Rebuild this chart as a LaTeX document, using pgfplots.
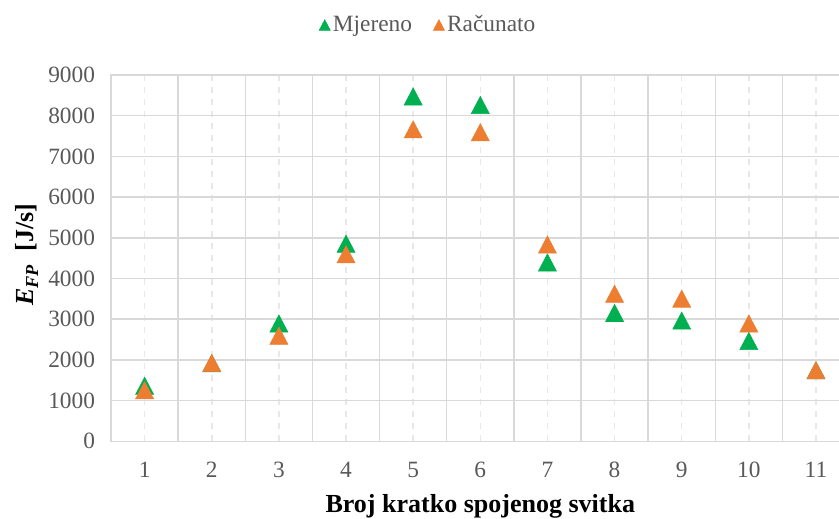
\documentclass[border=0pt]{standalone}
\usepackage{fontspec}
\setmainfont{Liberation Serif}
\usepackage{pgfplots}
\pgfplotsset{compat=1.18}
\definecolor{mjer}{HTML}{00B050}
\definecolor{racun}{HTML}{ED7D31}
\definecolor{gridc}{HTML}{D9D9D9}
\definecolor{gridd}{HTML}{E8E8E8}
\definecolor{txt}{HTML}{595959}

\begin{document}
\begin{tikzpicture}
\begin{axis}[
    scale only axis,
    width=553.5pt, height=274.5pt,
    xmin=0.5, xmax=11.5,
    ymin=0, ymax=9000,
    xtick={1,...,11},
    minor xtick={0.5,1.5,...,11.5},
    ytick={0,1000,...,9000},
    major tick length=0pt, minor tick length=0pt,
    ymajorgrids, xmajorgrids, xminorgrids,
    y grid style={gridc, line width=1.1pt},
    x grid style={gridd, line width=1.1pt, dash pattern=on 4.5pt off 4.5pt},
    minor x grid style={gridc, line width=1.1pt, solid},
    axis line style={gridc, line width=1.1pt},
    /pgf/number format/assume math mode=true,
    /pgf/number format/1000 sep={},
    ticklabel style={font=\fontsize{17.5}{20}\selectfont, text=txt},
    xticklabel style={yshift=-12pt},
    yticklabel style={xshift=-8.5pt},
    legend columns=2,
    legend style={draw=none, fill=none, at={(axis description cs:0.43,1.137)}, anchor=center,
        font=\fontsize{17.5}{20}\selectfont, text=txt,
        /tikz/every even column/.append style={column sep=14pt}},
    legend image code/.code={\draw[#1, mark size=4.8pt, mark options={yscale=1.1}] plot coordinates {(0.12cm,-0.05cm)};},
    clip=false,
]
\addplot[only marks, mark=triangle*, mark size=7.8pt, mark options={draw=mjer, fill=mjer, yscale=1.1, yshift=-2.1pt}, color=mjer]
coordinates {(1,1370) (2,1920) (3,2900) (4,4860) (5,8480) (6,8270) (7,4400) (8,3160) (9,2970) (10,2470) (11,1750)};
\addlegendentry{Mjereno}
\addplot[only marks, mark=triangle*, mark size=7.8pt, mark options={draw=racun, fill=racun, yscale=1.1, yshift=-2.1pt}, color=racun]
coordinates {(1,1260) (2,1930) (3,2600) (4,4600) (5,7670) (6,7600) (7,4840) (8,3630) (9,3510) (10,2900) (11,1750)};
\addlegendentry{Računato}
\coordinate (SW) at (rel axis cs:0,0);
\coordinate (NE) at (rel axis cs:1,1);
\node[rotate=90, anchor=center, font=\fontsize{19.5}{22}\selectfont\bfseries]
    at ([xshift=-63pt]rel axis cs:0,0.51) {\textit{E}\textsubscript{\textit{FP}}\ \ [J/s]};
\node[anchor=base, font=\fontsize{19.5}{22}\selectfont\bfseries]
    at ([yshift=-53.6pt]rel axis cs:0.5,0) {Broj kratko spojenog svitka};
\end{axis}
\pgfresetboundingbox
\useasboundingbox ([xshift=-83.25pt,yshift=-57.75pt]SW) rectangle ([xshift=-7.9pt,yshift=56.25pt]NE);
\end{tikzpicture}
\end{document}
